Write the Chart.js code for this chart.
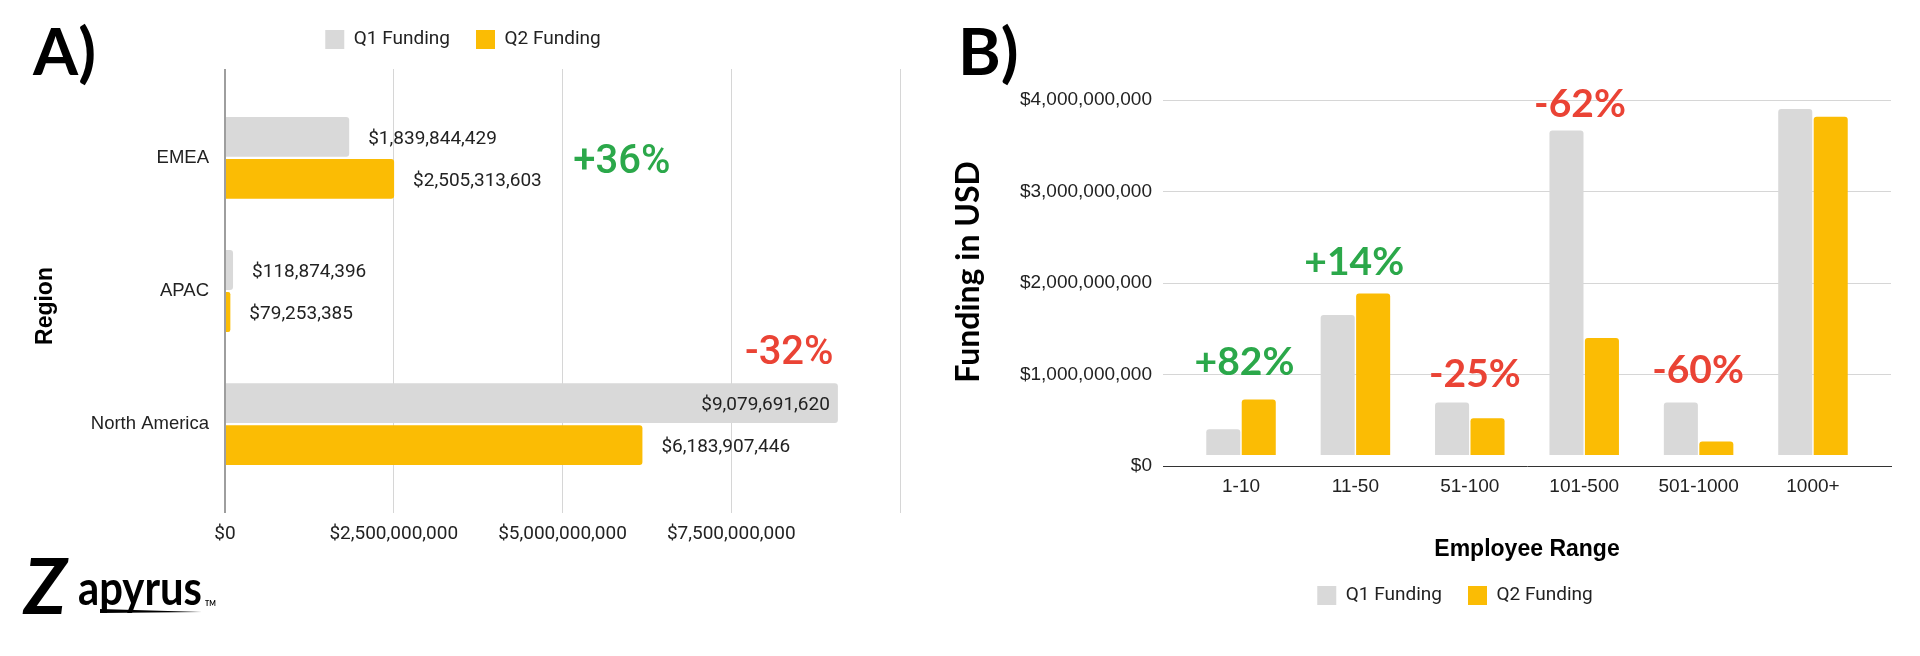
<!DOCTYPE html>
<html><head><meta charset="utf-8">
<script src="https://cdn.jsdelivr.net/npm/chart.js@4.4.1/dist/chart.umd.min.js"></script>
<style>
html,body{margin:0;padding:0;background:#fff;width:1920px;height:656px;overflow:hidden;}
#ca{position:absolute;left:0;top:0;}
#cb{position:absolute;left:930px;top:0;}
</style></head><body>
<canvas id="ca" width="930" height="656"></canvas>
<canvas id="cb" width="990" height="656"></canvas>
<script>
// ---------- data ----------
const seriesNames = ['Q1 Funding', 'Q2 Funding'];

const regions = ['EMEA', 'APAC', 'North America'];
const q1ByRegion = [1839844429, 118874396, 9079691620];
const q2ByRegion = [2505313603, 79253385, 6183907446];
const regionTickValues = [0, 2500000000, 5000000000, 7500000000, 10000000000];
const regionTickLabels = ['$0', '$2,500,000,000', '$5,000,000,000', '$7,500,000,000', ''];
const regionChangeLabels = ['+36%', '-32%'];

const employeeRanges = ['1-10', '11-50', '51-100', '101-500', '501-1000', '1000+'];
const q1ByRange = [403000000, 1650000000, 693000000, 3667000000, 693000000, 3903000000];
const q2ByRange = [726000000, 1886000000, 522000000, 1400000000, 269000000, 3816000000];
const rangeTickValues = [0, 1000000000, 2000000000, 3000000000, 4000000000];
const rangeTickLabels = ['$0', '$1,000,000,000', '$2,000,000,000', '$3,000,000,000', '$4,000,000,000'];
const rangeChangeLabels = ['+82%', '+14%', '-25%', '-62%', '-60%'];

// ---------- style ----------
const GREY = '#d9d9d9', YELLOW = '#fbbc04', GREEN = '#2ba84a', RED = '#ea4335', TXT = '#222';
const GRIDC = '#d6d6d6';
// anchors (in axis units) of the change annotations
const regionChangeAnchors = [{x: 5.88e9, y: 0.037}, {x: 8.36e9, y: 1.472}];
const rangeChangeAnchors = [{x: 0.03, y: 1.13e9}, {x: 0.99, y: 2.22e9}, {x: 2.045, y: 1.005e9}, {x: 2.963, y: 3.955e9}, {x: 3.995, y: 1.05e9}];

Chart.defaults.font.family = 'Roboto';
Chart.defaults.color = TXT;

function legendPlacer(cx, boxTop) {
  return {id: 'legendPlacer', afterLayout(chart) {
    const lg = chart.legend; if (!lg) return;
    const w = lg.right - lg.left, h = lg.bottom - lg.top;
    lg.left = cx - w / 2; lg.right = cx + w / 2;
    lg.top = boxTop - lg.options.labels.padding; lg.bottom = lg.top + h;
  }};
}
function titleShift(dy) {
  return {id: 'titleShift', afterLayout(chart) { const s = chart.scales.y; s.top += dy; s.bottom += dy; }};
}
function changeLabels(labels, anchors, font) {
  return {id: 'changeLabels', afterDatasetsDraw(chart) {
    const {ctx} = chart, x = chart.scales.x, y = chart.scales.y;
    ctx.save(); ctx.font = font; ctx.textAlign = 'center'; ctx.textBaseline = 'middle';
    labels.forEach((t, i) => {
      ctx.fillStyle = t[0] === '+' ? GREEN : RED;
      ctx.fillText(t, x.getPixelForValue(anchors[i].x), y.getPixelForValue(anchors[i].y));
    });
    ctx.restore();
  }};
}
function panelLetter(text, x) {
  return {id: 'panelLetter', afterDraw(chart) {
    const ctx = chart.ctx; ctx.save();
    ctx.font = '700 65px Lato'; ctx.fillStyle = '#000'; ctx.textBaseline = 'alphabetic'; ctx.textAlign = 'left';
    ctx.fillText(text, x, 75); ctx.restore();
  }};
}
const valueLabels = {id: 'valueLabels', afterDatasetsDraw(chart) {
  const ctx = chart.ctx; ctx.save();
  ctx.font = '19px Roboto'; ctx.fillStyle = TXT; ctx.textBaseline = 'middle';
  chart.data.datasets.forEach((ds, di) => {
    chart.getDatasetMeta(di).data.forEach((bar, i) => {
      const t = '$' + ds.data[i].x.toLocaleString('en-US');
      const w = ctx.measureText(t).width;
      const ty = bar.y + 2;
      if (bar.x + 19 + w > chart.chartArea.right) { ctx.textAlign = 'right'; ctx.fillText(t, bar.x - 8, ty); }
      else { ctx.textAlign = 'left'; ctx.fillText(t, bar.x + 19, ty); }
    });
  });
  ctx.restore();
}};
const logo = {id: 'logo', afterDraw(chart) {
  const ctx = chart.ctx; ctx.save(); ctx.fillStyle = '#000'; ctx.textBaseline = 'alphabetic'; ctx.textAlign = 'left';
  ctx.font = 'italic 700 76px Lato'; ctx.fillText('Z', 24, 614);
  ctx.font = '700 48px Lato';
  const w = ctx.measureText('apyrus').width;
  ctx.translate(78, 605); ctx.scale(124 / w, 1); ctx.fillText('apyrus', 0, 0);
  ctx.setTransform(1, 0, 0, 1, 0, 0);
  ctx.beginPath(); ctx.moveTo(100, 609); ctx.lineTo(202, 612); ctx.lineTo(100, 613); ctx.closePath(); ctx.fill();
  ctx.font = '700 7px Lato'; ctx.fillText('TM', 205, 606);
  ctx.restore();
}};

const legendLabels = {font: {family: 'Roboto', size: 19}, color: TXT, boxWidth: 19, boxHeight: 19, padding: 26};
const barStyle = {borderRadius: 3, borderSkipped: 'start', borderWidth: 0};

// ---------- chart A ----------
new Chart(document.getElementById('ca'), {
  type: 'bar',
  data: {datasets: [
    Object.assign({label: seriesNames[0], data: q1ByRegion.map((v, i) => ({x: v, y: i})), backgroundColor: GREY, categoryPercentage: 0.63, barPercentage: 0.95}, barStyle),
    Object.assign({label: seriesNames[1], data: q2ByRegion.map((v, i) => ({x: v, y: i})), backgroundColor: YELLOW, categoryPercentage: 0.63, barPercentage: 0.95}, barStyle)
  ]},
  options: {
    indexAxis: 'y', responsive: false, animation: false, devicePixelRatio: 1,
    layout: {padding: {left: 0, right: 30, top: 14, bottom: 0}},
    plugins: {legend: {position: 'top', labels: legendLabels}, tooltip: {enabled: false}},
    scales: {
      x: {type: 'linear', position: 'bottom', min: 0, max: 10000000000,
        afterBuildTicks: s => { s.ticks = regionTickValues.map(v => ({value: v})); },
        ticks: {callback: (v, i) => regionTickLabels[i], font: {family: 'Roboto', size: 19}, color: TXT, padding: 10, autoSkip: false, maxRotation: 0},
        grid: {drawTicks: false, color: c => (c.tick && c.tick.value === 0) ? '#9e9e9e' : GRIDC, lineWidth: c => (c.tick && c.tick.value === 0) ? 2 : 1},
        border: {display: false},
        afterFit: s => { s.height = 143; }},
      y: {type: 'linear', position: 'left', reverse: true, offset: false, min: -0.667, max: 2.667,
        afterBuildTicks: s => { s.ticks = regions.map((r, i) => ({value: i})); },
        ticks: {callback: v => regions[v], font: {family: 'Liberation Sans', size: 18.5}, color: TXT, padding: 8, autoSkip: false},
        grid: {display: false, offset: false}, border: {display: false},
        title: {display: true, text: 'Region', font: {family: 'Liberation Sans', size: 23, weight: 'bold'}, color: '#000', padding: {top: 32, bottom: 0}},
        afterFit: s => { s.width = 225; }}
    }
  },
  plugins: [legendPlacer(463, 30), titleShift(15), valueLabels, changeLabels(regionChangeLabels, regionChangeAnchors, '500 40px Roboto'), panelLetter('A)', 33), logo]
});

// ---------- chart B ----------
new Chart(document.getElementById('cb'), {
  type: 'bar',
  data: {datasets: [
    Object.assign({label: seriesNames[0], data: q1ByRange.map((v, i) => ({x: i, y: v})), backgroundColor: GREY, categoryPercentage: 0.62, barPercentage: 0.96}, barStyle),
    Object.assign({label: seriesNames[1], data: q2ByRange.map((v, i) => ({x: i, y: v})), backgroundColor: YELLOW, categoryPercentage: 0.62, barPercentage: 0.96}, barStyle)
  ]},
  options: {
    responsive: false, animation: false, devicePixelRatio: 1,
    layout: {padding: {left: 0, right: 29, top: 100, bottom: 30}},
    plugins: {legend: {position: 'bottom', labels: legendLabels}, tooltip: {enabled: false}},
    scales: {
      x: {type: 'linear', offset: false, min: -0.682, max: 5.682,
        afterBuildTicks: s => { s.ticks = employeeRanges.map((r, i) => ({value: i})); },
        ticks: {callback: v => employeeRanges[v], font: {family: 'Liberation Sans', size: 19}, color: TXT, padding: 9, autoSkip: false, maxRotation: 0},
        grid: {display: true, offset: false, drawOnChartArea: false, drawTicks: false},
        border: {display: true, color: '#333', width: 1},
        title: {display: true, text: 'Employee Range', font: {family: 'Liberation Sans', size: 23, weight: 'bold'}, color: '#000', padding: {top: 0, bottom: 8}},
        afterFit: s => { s.height = 105; }},
      y: {min: 0, max: 4000000000,
        afterBuildTicks: s => { s.ticks = rangeTickValues.map(v => ({value: v})); },
        ticks: {callback: (v, i) => rangeTickLabels[i], font: {family: 'Liberation Sans', size: 19}, color: TXT, padding: 11, autoSkip: false},
        grid: {drawTicks: false, color: c => (c.tick && c.tick.value === 0) ? 'rgba(0,0,0,0)' : GRIDC},
        border: {display: false},
        title: {display: true, text: 'Funding in USD', font: {family: 'Lato', size: 32, weight: 'bold'}, color: '#000', padding: {top: 19, bottom: 0}},
        afterFit: s => { s.width = 233; }}
    }
  },
  plugins: [legendPlacer(525, 586), titleShift(-11), changeLabels(rangeChangeLabels, rangeChangeAnchors, '700 39px Lato'), panelLetter('B)', 28)]
});
</script>
</body></html>
